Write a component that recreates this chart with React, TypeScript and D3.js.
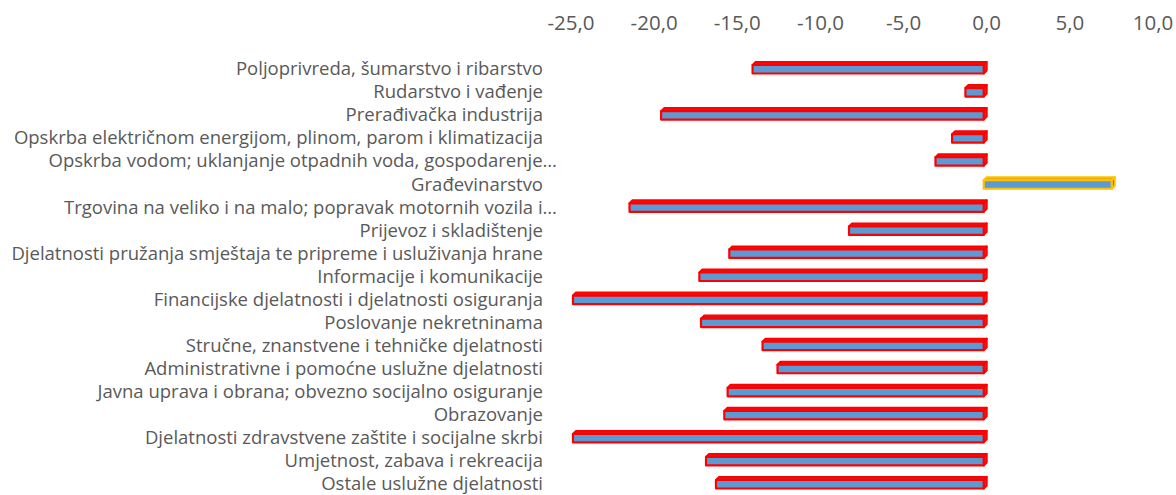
import React from "react";
import * as d3 from "d3";

const categories = [
  "Poljoprivreda, šumarstvo i ribarstvo",
  "Rudarstvo i vađenje",
  "Prerađivačka industrija",
  "Opskrba električnom energijom, plinom, parom i klimatizacija",
  "Opskrba vodom; uklanjanje otpadnih voda, gospodarenje…",
  "Građevinarstvo",
  "Trgovina na veliko i na malo; popravak motornih vozila i…",
  "Prijevoz i skladištenje",
  "Djelatnosti pružanja smještaja te pripreme i usluživanja hrane",
  "Informacije i komunikacije",
  "Financijske djelatnosti i djelatnosti osiguranja",
  "Poslovanje nekretninama",
  "Stručne, znanstvene i tehničke djelatnosti",
  "Administrativne i pomoćne uslužne djelatnosti",
  "Javna uprava i obrana; obvezno socijalno osiguranje",
  "Obrazovanje",
  "Djelatnosti zdravstvene zaštite i socijalne skrbi",
  "Umjetnost, zabava i rekreacija",
  "Ostale uslužne djelatnosti",
];

const values = [
  -13.9, -1.1, -19.4, -1.9, -2.9, 7.7, -21.3, -8.1, -15.3, -17.1, -24.7, -17.0,
  -13.3, -12.4, -15.4, -15.6, -24.7, -16.7, -16.1,
];

const ticks = [-25, -20, -15, -10, -5, 0, 5, 10];

const W = 1176;
const H = 495;
const DEPTH = 3;
const FONT = "'Open Sans', 'DejaVu Sans', sans-serif";
const TEXT = "#595959";

export default function App() {
  const x = d3.scaleLinear().domain([-25, 10]).range([571, 1153]);
  const y = d3.scaleBand<string>().domain(categories).range([57.7, 495.8]).padding(0);
  const fmt = (v: number) => d3.format(".1f")(v).replace(".", ",").replace("−", "-");
  const barH = 8.5;

  return (
    <svg
      width={W}
      height={H}
      style={{ position: "absolute", left: 0, top: 0, background: "#fff" }}
    >
      {ticks.map((t) => (
        <text
          key={t}
          x={x(t)}
          y={22}
          textAnchor="middle"
          dominantBaseline="central"
          fontFamily={FONT}
          fontSize={20.5}
          fill={TEXT}
        >
          {fmt(t)}
        </text>
      ))}
      {categories.map((c) => {
        const cy = (y(c) as number) + y.bandwidth() / 2;
        const ell = c.endsWith("…");
        return (
          <text
            key={c}
            x={ell ? 557 : 543}
            y={cy - 1.5}
            textAnchor="end"
            dominantBaseline="central"
            fontFamily={FONT}
            fontSize={18.5}
            fill={TEXT}
          >
            {c}
          </text>
        );
      })}
      {categories.map((c, i) => {
        const v = values[i];
        const cy = (y(c) as number) + y.bandwidth() / 2;
        const x0 = Math.min(x(0), x(v)) - DEPTH;
        const x1 = Math.max(x(0), x(v)) - DEPTH;
        const y0 = cy - barH / 2;
        const y1 = cy + barH / 2;
        const pos = v > 0;
        const stroke = pos ? "#FFC000" : "#FF0000";
        const topFill = pos ? "#E0A800" : "#D91A1A";
        const top = `${x0},${y0} ${x0 + DEPTH},${y0 - DEPTH} ${x1 + DEPTH},${y0 - DEPTH} ${x1},${y0}`;
        const side = `${x1},${y0} ${x1 + DEPTH},${y0 - DEPTH} ${x1 + DEPTH},${y1 - DEPTH} ${x1},${y1}`;
        return (
          <g key={c} strokeLinejoin="round">
            <polygon points={top} fill={topFill} stroke={stroke} strokeWidth={2} />
            <polygon points={side} fill="#3C6E9F" stroke={stroke} strokeWidth={2} />
            <rect
              x={x0}
              y={y0}
              width={x1 - x0}
              height={y1 - y0}
              fill="#5B9BD5"
              stroke={stroke}
              strokeWidth={2.2}
            />
          </g>
        );
      })}
    </svg>
  );
}
